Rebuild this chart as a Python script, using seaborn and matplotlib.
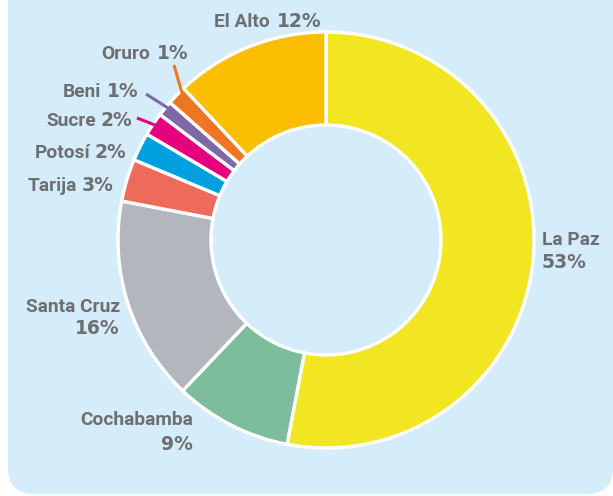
import matplotlib
import matplotlib.pyplot as plt
import matplotlib.patches as mpatches
import seaborn as sns

sns.set_style("white")
matplotlib.rcParams["font.family"] = "DejaVu Sans"

# data
departments = ["La Paz", "Cochabamba", "Santa Cruz", "Tarija", "Potosí",
               "Sucre", "Beni", "Oruro", "El Alto"]
shares = [53.0, 9.1, 15.9, 3.3, 2.2, 1.8, 1.2, 1.5, 12.0]
pct_labels = ["53%", "9%", "16%", "3%", "2%", "2%", "1%", "1%", "12%"]

colors = ["#F2E521", "#7DBD9D", "#B3B6BD", "#EE6A5A", "#009FE0",
          "#E5007D", "#7F68A6", "#EE7623", "#FBBE00"]
TEXT = "#6D6E70"
BG = "#D5ECFA"

fig = plt.figure(figsize=(6.13, 4.96), dpi=100)
ax = fig.add_axes([0, 0, 1, 1])

# rounded background panel (left edge x=8, right edge 613, bottom 494),
# top pushed well above the figure so only the bottom corners show
pad = 26
panel = mpatches.FancyBboxPatch(
    (8 + pad, -400), 613 - 8 - 2 * pad, 494 - pad + 400,
    boxstyle=f"round,pad={pad}", facecolor=BG, edgecolor="none",
    zorder=0, clip_on=True)
ax.add_patch(panel)

ax.pie(shares, colors=colors, startangle=-90, counterclock=True,
       center=(326, 240), radius=208, frame=True,
       wedgeprops=dict(width=93, edgecolor="white", linewidth=2.4))
ax.set_xlim(0, 613)
ax.set_ylim(496, 0)
ax.axis("off")

name_font = dict(family="Roboto", weight="bold", size=13.8, color=TEXT)
pct_font = dict(family="DejaVu Sans", weight="bold", size=13.5, color=TEXT)

# one-line labels: (index, x_name_left, x_pct_left, y_baseline)
inline = [(8, 214, 277, 27), (7, 101, 157, 59), (6, 63, 107, 97),
          (5, 46, 100, 126), (4, 35, 94, 158), (3, 28, 82, 191)]
for i, xn, xp, y in inline:
    ax.text(xn, y, departments[i], ha="left", va="baseline", **name_font)
    ax.text(xp, y, pct_labels[i], ha="left", va="baseline", **pct_font)

# two-line labels: (index, x, ha, y_name, y_pct)
stacked = [(0, 542, "left", 245, 268), (1, 193, "right", 425, 450),
           (2, 120, "right", 312, 334)]
for i, x, ha, yn, yp in stacked:
    ax.text(x, yn, departments[i], ha=ha, va="baseline", **name_font)
    ax.text(x, yp, pct_labels[i], ha=ha, va="baseline", **pct_font)

# leader lines for the thin slices
leaders = [(7, (174, 65), (182, 93)), (6, (146, 94), (168, 108)),
           (5, (137, 118), (155, 125))]
for i, p0, p1 in leaders:
    ax.plot([p0[0], p1[0]], [p0[1], p1[1]], color=colors[i], lw=2.2,
            solid_capstyle="butt", zorder=1)

fig.savefig("out.png", dpi=100, facecolor="white")
